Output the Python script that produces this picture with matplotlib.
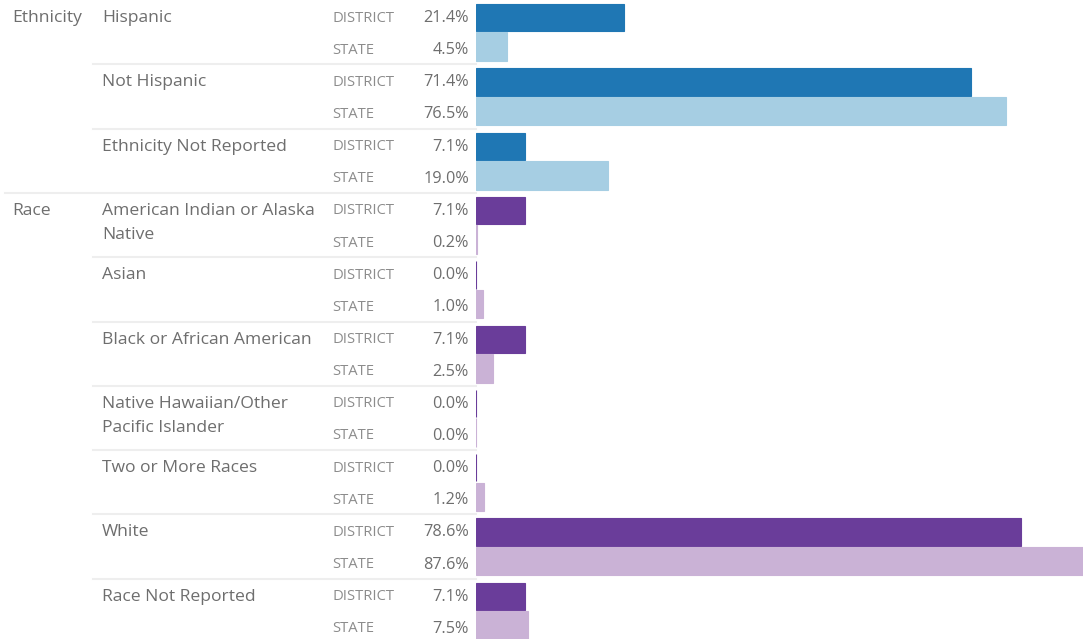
import matplotlib
matplotlib.use("Agg")
import matplotlib.pyplot as plt
from matplotlib.transforms import blended_transform_factory
from matplotlib.lines import Line2D

sections = ["Ethnicity", "Race"]
categories = ["Hispanic", "Not Hispanic", "Ethnicity Not Reported",
              "American Indian or Alaska\nNative", "Asian", "Black or African American",
              "Native Hawaiian/Other\nPacific Islander", "Two or More Races", "White",
              "Race Not Reported"]
category_section = [0, 0, 0, 1, 1, 1, 1, 1, 1, 1]
district = [21.4, 71.4, 7.1, 7.1, 0.0, 7.1, 0.0, 0.0, 78.6, 7.1]
state = [4.5, 76.5, 19.0, 0.2, 1.0, 2.5, 0.0, 1.2, 87.6, 7.5]
row_labels = ["DISTRICT", "STATE"]

W, H = 1083, 639
ROW_PX = 32.15
fig = plt.figure(figsize=(W / 100, H / 100), dpi=100)
fig.patch.set_facecolor("white")
x0 = 476
ax = fig.add_axes([x0 / W, 0, (W - x0) / W, 1])
ax.set_xlim(0, 87.6)
n = len(categories)
ax.set_ylim(H / ROW_PX, 0)
ax.axis("off")

dark = ["#1f77b4", "#6a3d9a"]
light = ["#a6cee3", "#cab2d6"]

for g in range(n):
    s = category_section[g]
    top = 2 * g
    ax.barh(top + 0.55, district[g], height=0.85, left=0, color=dark[s],
            edgecolor=dark[s], linewidth=0.8)
    ax.barh(top + 1.455, state[g], height=0.89, left=0, color=light[s],
            edgecolor=light[s], linewidth=0.8)

tr = blended_transform_factory(fig.transFigure, ax.transData)
fam = ["Open Sans", "DejaVu Sans"]
lab_col = "#6e6e6e"
small_col = "#8c8c8c"
dy = 0.56

for g in range(n):
    top = 2 * g
    lines = categories[g].split("\n")
    for i, ln in enumerate(lines):
        ax.text(102 / W, top + dy + i * 0.75, ln, transform=tr, ha="left", va="center",
                fontsize=12.6, color=lab_col, family=fam)
    for r, (lab, v) in enumerate(zip(row_labels, [district[g], state[g]])):
        ax.text(332 / W, top + dy + r, lab, transform=tr, ha="left", va="center",
                fontsize=10.6, color=small_col, family=fam)
        ax.text(469 / W, top + dy + r, f"{v:.1f}%", transform=tr, ha="right", va="center",
                fontsize=11.7, color=lab_col, family=fam)

# section labels
first = {}
for g, s in enumerate(category_section):
    first.setdefault(s, g)
for s, g in first.items():
    ax.text(12 / W, 2 * g + dy, sections[s], transform=tr, ha="left", va="center",
            fontsize=12.6, color=lab_col, family=fam)

# separators
for g in range(1, n):
    start = 5 if category_section[g] != category_section[g - 1] else 93
    ax.add_line(Line2D([start / W, x0 / W], [2 * g, 2 * g], transform=tr,
                       color="#eeeeee", linewidth=1.5, clip_on=False))

fig.savefig("out.png", dpi=100, facecolor="white")
